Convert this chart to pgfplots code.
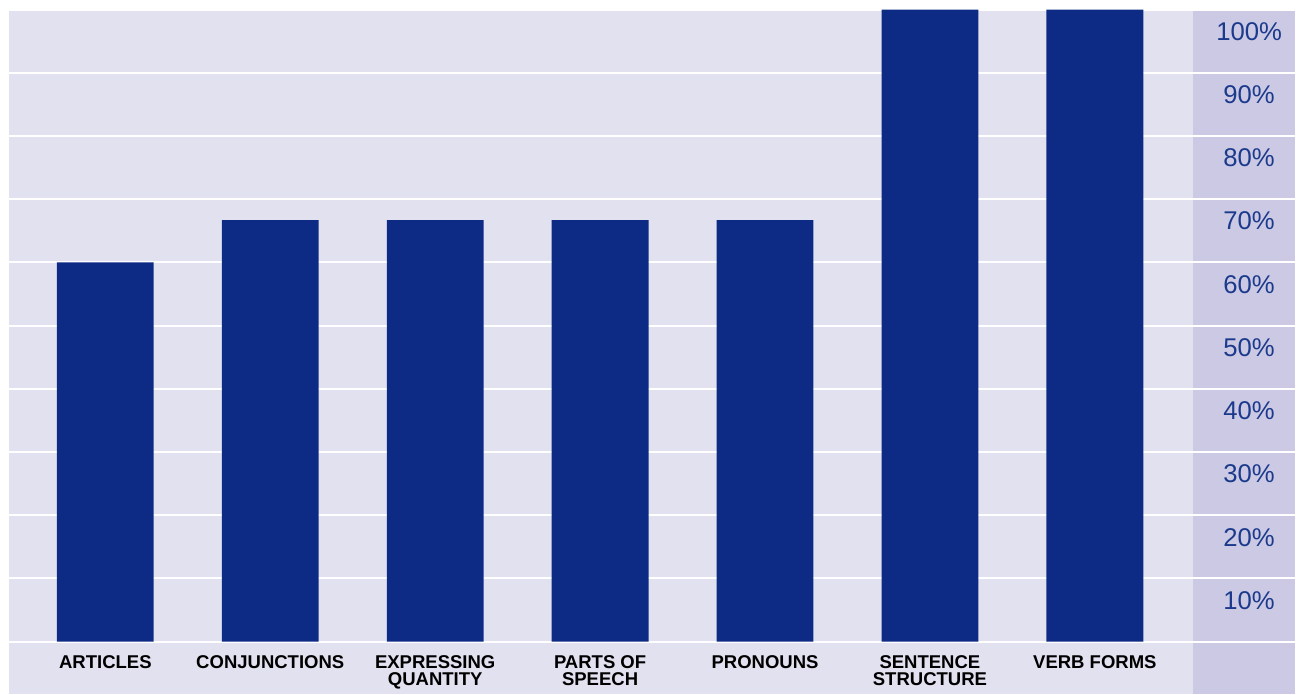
\documentclass[border=0pt]{standalone}
\usepackage{fontspec}
\setmainfont{Liberation Sans}
\usepackage{pgfplots}
\pgfplotsset{compat=1.18}

\definecolor{barblue}{RGB}{13,43,133}
\definecolor{labblue}{RGB}{27,58,140}
\definecolor{bglight}{RGB}{226,225,240}
\definecolor{bgband}{RGB}{204,201,228}

\begin{document}
\begin{tikzpicture}
\begin{axis}[
  set layers,
  scale only axis,
  width=1296bp, height=695bp,
  xmin=-0.6327, xmax=7.2137,
  ymin=-8.29, ymax=101.5,
  axis line style={draw=none},
  major tick length=0pt,
  xtick=data,
  xticklabels={ARTICLES, CONJUNCTIONS, {EXPRESSING\\QUANTITY}, {PARTS OF\\SPEECH},
               PRONOUNS, {SENTENCE\\STRUCTURE}, VERB FORMS},
  xticklabel style={font=\fontsize{18.6}{17.5}\selectfont\bfseries, align=center,
                    anchor=north, inner sep=0pt, yshift=39bp, text=black},
  ytick={0,10,...,100},
  yticklabels={{},10\%,20\%,30\%,40\%,50\%,60\%,70\%,80\%,90\%,100\%},
  yticklabel pos=right,
  yticklabel style={font=\fontsize{25.8}{30}\selectfont, text=labblue,
                    anchor=center, inner sep=0pt, xshift=-46bp, yshift=-22bp},
  ymajorgrids,
  grid style={white, line width=2bp},
]
\begin{pgfonlayer}{axis background}
  \fill[bglight] (axis cs:-0.5843,-8.29) rectangle (axis cs:6.593,100);
  \fill[bgband] (axis cs:6.593,-8.29) rectangle (axis cs:7.2137,100);
\end{pgfonlayer}
% share of correct answers per area
\addplot[ybar, bar width=0.587, fill=barblue, draw=none] coordinates {
  (0,60) (1,66.7) (2,66.7) (3,66.7) (4,66.7) (5,100) (6,100)
};
\end{axis}
\end{tikzpicture}
\end{document}
